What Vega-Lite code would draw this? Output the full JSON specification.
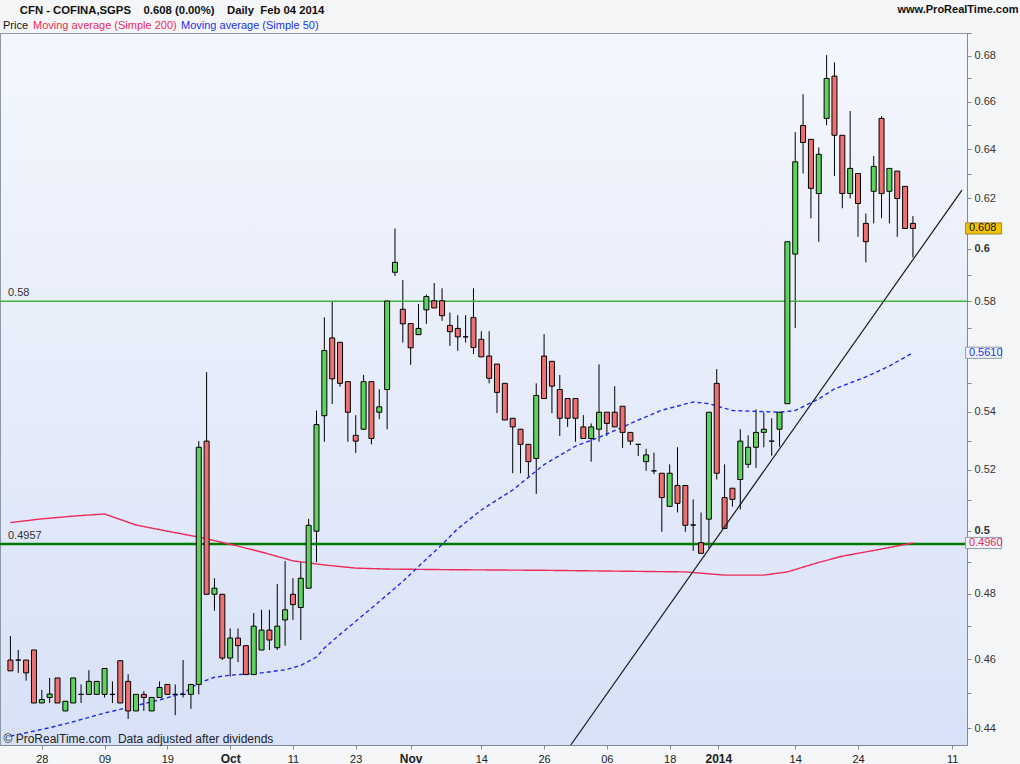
{
"$schema": "https://vega.github.io/schema/vega-lite/v6.json",
"width": 967, "height": 712,
"autosize": {"type": "none"},
"padding": {"left": 0, "top": 33, "right": 53, "bottom": 19},
"background": "#f5f6f7",
"config": {
  "font": "Liberation Sans",
  "axisX": {"labelOverlap": false, "labelSeparation": -60},
  "view": {"stroke": "#8c9aa5", "strokeWidth": 1, "fill": {"gradient": "linear", "x1": 0, "y1": 0, "x2": 0, "y2": 1, "stops": [{"offset": 0, "color": "#f4f7fd"}, {"offset": 1, "color": "#d8e1f7"}]}}
},
"datasets": {
"candles": [
{"i":0,"date":"2013-08-22","o":0.4598,"h":0.467,"l":0.4566,"c":0.4566},
{"i":1,"date":"2013-08-23","o":0.4598,"h":0.4628,"l":0.456,"c":0.4598},
{"i":2,"date":"2013-08-26","o":0.4598,"h":0.4598,"l":0.4537,"c":0.456},
{"i":3,"date":"2013-08-27","o":0.4628,"h":0.4628,"l":0.4472,"c":0.4472},
{"i":4,"date":"2013-08-28","o":0.4472,"h":0.451,"l":0.4472,"c":0.4482},
{"i":5,"date":"2013-08-29","o":0.4488,"h":0.4545,"l":0.4472,"c":0.4498},
{"i":6,"date":"2013-08-30","o":0.4545,"h":0.4545,"l":0.4472,"c":0.4472},
{"i":7,"date":"2013-09-02","o":0.4449,"h":0.4477,"l":0.4449,"c":0.4477},
{"i":8,"date":"2013-09-03","o":0.4472,"h":0.4545,"l":0.4472,"c":0.4545},
{"i":9,"date":"2013-09-04","o":0.4497,"h":0.4526,"l":0.4472,"c":0.4497},
{"i":10,"date":"2013-09-05","o":0.4497,"h":0.4568,"l":0.4497,"c":0.4535},
{"i":11,"date":"2013-09-06","o":0.4497,"h":0.4535,"l":0.4497,"c":0.4535},
{"i":12,"date":"2013-09-09","o":0.4497,"h":0.4573,"l":0.4488,"c":0.4573},
{"i":13,"date":"2013-09-10","o":0.4497,"h":0.4535,"l":0.4472,"c":0.4497},
{"i":14,"date":"2013-09-11","o":0.4596,"h":0.4596,"l":0.4472,"c":0.4472},
{"i":15,"date":"2013-09-12","o":0.4535,"h":0.4556,"l":0.4426,"c":0.4449},
{"i":16,"date":"2013-09-13","o":0.4449,"h":0.4497,"l":0.4449,"c":0.4497},
{"i":17,"date":"2013-09-16","o":0.4497,"h":0.4506,"l":0.4449,"c":0.4488},
{"i":18,"date":"2013-09-17","o":0.4449,"h":0.4488,"l":0.4449,"c":0.4488},
{"i":19,"date":"2013-09-18","o":0.4488,"h":0.4535,"l":0.4488,"c":0.4517},
{"i":20,"date":"2013-09-19","o":0.4526,"h":0.4526,"l":0.4497,"c":0.4497},
{"i":21,"date":"2013-09-20","o":0.4497,"h":0.4526,"l":0.4437,"c":0.4497},
{"i":22,"date":"2013-09-23","o":0.4497,"h":0.4598,"l":0.4488,"c":0.4497},
{"i":23,"date":"2013-09-24","o":0.4497,"h":0.4526,"l":0.4455,"c":0.4526},
{"i":24,"date":"2013-09-25","o":0.4526,"h":0.5298,"l":0.4497,"c":0.5277},
{"i":25,"date":"2013-09-26","o":0.5298,"h":0.554,"l":0.4798,"c":0.4798},
{"i":26,"date":"2013-09-27","o":0.4798,"h":0.4848,"l":0.4747,"c":0.4817},
{"i":27,"date":"2013-09-30","o":0.4798,"h":0.4798,"l":0.4598,"c":0.4604},
{"i":28,"date":"2013-10-01","o":0.4604,"h":0.4693,"l":0.4549,"c":0.4664},
{"i":29,"date":"2013-10-02","o":0.4664,"h":0.4693,"l":0.4592,"c":0.4641},
{"i":30,"date":"2013-10-03","o":0.4641,"h":0.4641,"l":0.4555,"c":0.4555},
{"i":31,"date":"2013-10-04","o":0.4555,"h":0.474,"l":0.4555,"c":0.47},
{"i":32,"date":"2013-10-07","o":0.4628,"h":0.475,"l":0.4628,"c":0.4688},
{"i":33,"date":"2013-10-08","o":0.4688,"h":0.475,"l":0.4628,"c":0.4658},
{"i":34,"date":"2013-10-09","o":0.4635,"h":0.483,"l":0.4628,"c":0.47},
{"i":35,"date":"2013-10-10","o":0.4719,"h":0.4902,"l":0.4641,"c":0.475},
{"i":36,"date":"2013-10-11","o":0.4798,"h":0.4848,"l":0.4719,"c":0.4766},
{"i":37,"date":"2013-10-14","o":0.4757,"h":0.4899,"l":0.4658,"c":0.4848},
{"i":38,"date":"2013-10-15","o":0.4817,"h":0.5038,"l":0.4817,"c":0.5017},
{"i":39,"date":"2013-10-16","o":0.4998,"h":0.5404,"l":0.4899,"c":0.5355},
{"i":40,"date":"2013-10-17","o":0.5386,"h":0.574,"l":0.5296,"c":0.5618},
{"i":41,"date":"2013-10-18","o":0.5664,"h":0.5798,"l":0.5427,"c":0.5516},
{"i":42,"date":"2013-10-21","o":0.5648,"h":0.5648,"l":0.5488,"c":0.55},
{"i":43,"date":"2013-10-22","o":0.5506,"h":0.5506,"l":0.5296,"c":0.5398},
{"i":44,"date":"2013-10-23","o":0.5318,"h":0.5388,"l":0.5258,"c":0.5298},
{"i":45,"date":"2013-10-24","o":0.5339,"h":0.553,"l":0.5339,"c":0.5506},
{"i":46,"date":"2013-10-25","o":0.5506,"h":0.5506,"l":0.5287,"c":0.5307},
{"i":47,"date":"2013-10-28","o":0.5398,"h":0.5479,"l":0.5374,"c":0.5417},
{"i":48,"date":"2013-10-29","o":0.5478,"h":0.5801,"l":0.5339,"c":0.5801},
{"i":49,"date":"2013-10-30","o":0.591,"h":0.608,"l":0.5896,"c":0.5948},
{"i":50,"date":"2013-10-31","o":0.577,"h":0.588,"l":0.5647,"c":0.5716},
{"i":51,"date":"2013-11-01","o":0.5717,"h":0.5717,"l":0.5566,"c":0.5628},
{"i":52,"date":"2013-11-04","o":0.5676,"h":0.579,"l":0.5676,"c":0.5699},
{"i":53,"date":"2013-11-05","o":0.5768,"h":0.5825,"l":0.5716,"c":0.5818},
{"i":54,"date":"2013-11-06","o":0.5802,"h":0.5869,"l":0.5775,"c":0.5775},
{"i":55,"date":"2013-11-07","o":0.5802,"h":0.5849,"l":0.5727,"c":0.5746},
{"i":56,"date":"2013-11-08","o":0.571,"h":0.5758,"l":0.5635,"c":0.5687},
{"i":57,"date":"2013-11-11","o":0.5699,"h":0.5748,"l":0.5617,"c":0.5668},
{"i":58,"date":"2013-11-12","o":0.5668,"h":0.5748,"l":0.5647,"c":0.5668},
{"i":59,"date":"2013-11-13","o":0.5739,"h":0.5849,"l":0.5605,"c":0.5629},
{"i":60,"date":"2013-11-14","o":0.5659,"h":0.5689,"l":0.5595,"c":0.5595},
{"i":61,"date":"2013-11-15","o":0.5598,"h":0.5689,"l":0.55,"c":0.5518},
{"i":62,"date":"2013-11-18","o":0.5569,"h":0.5569,"l":0.5395,"c":0.5468},
{"i":63,"date":"2013-11-19","o":0.55,"h":0.55,"l":0.5371,"c":0.5371},
{"i":64,"date":"2013-11-20","o":0.5377,"h":0.5377,"l":0.5189,"c":0.5347},
{"i":65,"date":"2013-11-21","o":0.5339,"h":0.5339,"l":0.5189,"c":0.5287},
{"i":66,"date":"2013-11-22","o":0.5287,"h":0.5287,"l":0.5178,"c":0.5228},
{"i":67,"date":"2013-11-25","o":0.5239,"h":0.55,"l":0.512,"c":0.5457},
{"i":68,"date":"2013-11-26","o":0.5598,"h":0.5678,"l":0.5446,"c":0.5446},
{"i":69,"date":"2013-11-27","o":0.5579,"h":0.5579,"l":0.5395,"c":0.549},
{"i":70,"date":"2013-11-28","o":0.5478,"h":0.553,"l":0.5316,"c":0.5377},
{"i":71,"date":"2013-11-29","o":0.5446,"h":0.5446,"l":0.5347,"c":0.5377},
{"i":72,"date":"2013-12-02","o":0.5446,"h":0.5446,"l":0.5296,"c":0.5377},
{"i":73,"date":"2013-12-03","o":0.5347,"h":0.5388,"l":0.5307,"c":0.5307},
{"i":74,"date":"2013-12-04","o":0.5307,"h":0.5359,"l":0.5228,"c":0.5347},
{"i":75,"date":"2013-12-05","o":0.5339,"h":0.5568,"l":0.5296,"c":0.5398},
{"i":76,"date":"2013-12-06","o":0.5398,"h":0.5398,"l":0.5316,"c":0.5359},
{"i":77,"date":"2013-12-09","o":0.5398,"h":0.549,"l":0.5347,"c":0.5347},
{"i":78,"date":"2013-12-10","o":0.5419,"h":0.5419,"l":0.5275,"c":0.5328},
{"i":79,"date":"2013-12-11","o":0.5328,"h":0.5328,"l":0.5285,"c":0.5298},
{"i":80,"date":"2013-12-12","o":0.5287,"h":0.5287,"l":0.5247,"c":0.5287},
{"i":81,"date":"2013-12-13","o":0.5228,"h":0.5272,"l":0.5197,"c":0.5251},
{"i":82,"date":"2013-12-16","o":0.5197,"h":0.5259,"l":0.5186,"c":0.5197},
{"i":83,"date":"2013-12-17","o":0.5189,"h":0.5189,"l":0.4996,"c":0.5108},
{"i":84,"date":"2013-12-18","o":0.5079,"h":0.5219,"l":0.5079,"c":0.5189},
{"i":85,"date":"2013-12-19","o":0.5148,"h":0.5277,"l":0.5059,"c":0.5089},
{"i":86,"date":"2013-12-20","o":0.5148,"h":0.5148,"l":0.4996,"c":0.5017},
{"i":87,"date":"2013-12-23","o":0.5018,"h":0.5102,"l":0.4935,"c":0.5018},
{"i":88,"date":"2013-12-24","o":0.4961,"h":0.5059,"l":0.4927,"c":0.4927},
{"i":89,"date":"2013-12-27","o":0.5037,"h":0.5398,"l":0.4943,"c":0.5398},
{"i":90,"date":"2013-12-30","o":0.55,"h":0.5551,"l":0.5168,"c":0.5189},
{"i":91,"date":"2013-12-31","o":0.5108,"h":0.5219,"l":0.5007,"c":0.5007},
{"i":92,"date":"2014-01-02","o":0.5139,"h":0.5139,"l":0.5078,"c":0.5102},
{"i":93,"date":"2014-01-03","o":0.5168,"h":0.5339,"l":0.5069,"c":0.5298},
{"i":94,"date":"2014-01-06","o":0.5219,"h":0.5318,"l":0.5207,"c":0.5277},
{"i":95,"date":"2014-01-07","o":0.5277,"h":0.5408,"l":0.5207,"c":0.5328},
{"i":96,"date":"2014-01-08","o":0.5328,"h":0.5398,"l":0.5277,"c":0.5339},
{"i":97,"date":"2014-01-09","o":0.5298,"h":0.5377,"l":0.5248,"c":0.5298},
{"i":98,"date":"2014-01-10","o":0.5339,"h":0.5398,"l":0.5279,"c":0.5398},
{"i":99,"date":"2014-01-13","o":0.5428,"h":0.6028,"l":0.5428,"c":0.6028},
{"i":100,"date":"2014-01-14","o":0.598,"h":0.6471,"l":0.57,"c":0.6348},
{"i":101,"date":"2014-01-15","o":0.6499,"h":0.6632,"l":0.63,"c":0.6428},
{"i":102,"date":"2014-01-16","o":0.6441,"h":0.6441,"l":0.612,"c":0.624},
{"i":103,"date":"2014-01-17","o":0.6219,"h":0.6408,"l":0.6028,"c":0.6379},
{"i":104,"date":"2014-01-20","o":0.6529,"h":0.6802,"l":0.65,"c":0.67},
{"i":105,"date":"2014-01-21","o":0.671,"h":0.677,"l":0.629,"c":0.6458},
{"i":106,"date":"2014-01-22","o":0.6458,"h":0.6458,"l":0.616,"c":0.6219},
{"i":107,"date":"2014-01-23","o":0.6219,"h":0.656,"l":0.6199,"c":0.6321},
{"i":108,"date":"2014-01-24","o":0.63,"h":0.63,"l":0.6047,"c":0.6179},
{"i":109,"date":"2014-01-27","o":0.61,"h":0.6139,"l":0.5948,"c":0.6028},
{"i":110,"date":"2014-01-28","o":0.6228,"h":0.6372,"l":0.61,"c":0.6329},
{"i":111,"date":"2014-01-29","o":0.6529,"h":0.6538,"l":0.612,"c":0.6219},
{"i":112,"date":"2014-01-30","o":0.6228,"h":0.6321,"l":0.61,"c":0.6321},
{"i":113,"date":"2014-01-31","o":0.631,"h":0.631,"l":0.6047,"c":0.6199},
{"i":114,"date":"2014-02-03","o":0.6248,"h":0.6248,"l":0.608,"c":0.608},
{"i":115,"date":"2014-02-04","o":0.61,"h":0.6129,"l":0.5967,"c":0.608}
],
"ma": [
{"i":0,"v":0.5026,"series":"Moving average (Simple 200)"},
{"i":4,"v":0.5038,"series":"Moving average (Simple 200)"},
{"i":8,"v":0.5047,"series":"Moving average (Simple 200)"},
{"i":12,"v":0.5054,"series":"Moving average (Simple 200)"},
{"i":16,"v":0.5018,"series":"Moving average (Simple 200)"},
{"i":20,"v":0.4998,"series":"Moving average (Simple 200)"},
{"i":24,"v":0.4979,"series":"Moving average (Simple 200)"},
{"i":28,"v":0.4956,"series":"Moving average (Simple 200)"},
{"i":32,"v":0.4931,"series":"Moving average (Simple 200)"},
{"i":36,"v":0.4903,"series":"Moving average (Simple 200)"},
{"i":40,"v":0.489,"series":"Moving average (Simple 200)"},
{"i":44,"v":0.488,"series":"Moving average (Simple 200)"},
{"i":48,"v":0.4877,"series":"Moving average (Simple 200)"},
{"i":56,"v":0.4875,"series":"Moving average (Simple 200)"},
{"i":68,"v":0.4873,"series":"Moving average (Simple 200)"},
{"i":86,"v":0.4868,"series":"Moving average (Simple 200)"},
{"i":91,"v":0.4858,"series":"Moving average (Simple 200)"},
{"i":96,"v":0.4858,"series":"Moving average (Simple 200)"},
{"i":99,"v":0.4868,"series":"Moving average (Simple 200)"},
{"i":103,"v":0.4898,"series":"Moving average (Simple 200)"},
{"i":106,"v":0.4918,"series":"Moving average (Simple 200)"},
{"i":110,"v":0.4936,"series":"Moving average (Simple 200)"},
{"i":115,"v":0.496,"series":"Moving average (Simple 200)"},
{"i":0,"v":0.4377,"series":"Moving average (Simple 50)"},
{"i":5,"v":0.4401,"series":"Moving average (Simple 50)"},
{"i":8,"v":0.4418,"series":"Moving average (Simple 50)"},
{"i":12,"v":0.4443,"series":"Moving average (Simple 50)"},
{"i":15,"v":0.4459,"series":"Moving average (Simple 50)"},
{"i":19,"v":0.4481,"series":"Moving average (Simple 50)"},
{"i":22,"v":0.45,"series":"Moving average (Simple 50)"},
{"i":24,"v":0.453,"series":"Moving average (Simple 50)"},
{"i":26,"v":0.4547,"series":"Moving average (Simple 50)"},
{"i":28,"v":0.4553,"series":"Moving average (Simple 50)"},
{"i":32,"v":0.456,"series":"Moving average (Simple 50)"},
{"i":35,"v":0.4569,"series":"Moving average (Simple 50)"},
{"i":37,"v":0.4582,"series":"Moving average (Simple 50)"},
{"i":39,"v":0.4607,"series":"Moving average (Simple 50)"},
{"i":40,"v":0.4634,"series":"Moving average (Simple 50)"},
{"i":42,"v":0.4675,"series":"Moving average (Simple 50)"},
{"i":46,"v":0.4755,"series":"Moving average (Simple 50)"},
{"i":50,"v":0.4838,"series":"Moving average (Simple 50)"},
{"i":52,"v":0.4885,"series":"Moving average (Simple 50)"},
{"i":55,"v":0.4955,"series":"Moving average (Simple 50)"},
{"i":57,"v":0.5006,"series":"Moving average (Simple 50)"},
{"i":60,"v":0.5067,"series":"Moving average (Simple 50)"},
{"i":64,"v":0.5133,"series":"Moving average (Simple 50)"},
{"i":68,"v":0.5218,"series":"Moving average (Simple 50)"},
{"i":72,"v":0.5281,"series":"Moving average (Simple 50)"},
{"i":75,"v":0.5311,"series":"Moving average (Simple 50)"},
{"i":78,"v":0.5346,"series":"Moving average (Simple 50)"},
{"i":80,"v":0.5371,"series":"Moving average (Simple 50)"},
{"i":83,"v":0.5405,"series":"Moving average (Simple 50)"},
{"i":87,"v":0.5434,"series":"Moving average (Simple 50)"},
{"i":89,"v":0.5428,"series":"Moving average (Simple 50)"},
{"i":92,"v":0.5404,"series":"Moving average (Simple 50)"},
{"i":94,"v":0.5402,"series":"Moving average (Simple 50)"},
{"i":98,"v":0.5398,"series":"Moving average (Simple 50)"},
{"i":100,"v":0.5404,"series":"Moving average (Simple 50)"},
{"i":103,"v":0.5445,"series":"Moving average (Simple 50)"},
{"i":105,"v":0.548,"series":"Moving average (Simple 50)"},
{"i":109,"v":0.5523,"series":"Moving average (Simple 50)"},
{"i":112,"v":0.5562,"series":"Moving average (Simple 50)"},
{"i":115,"v":0.561,"series":"Moving average (Simple 50)"}
],
"levels": [
{"v":0.58,"label":"0.58","kind":"upper"},
{"v":0.4957,"label":"0.4957","kind":"lower"}
],
"trend": [
{"i":71.4,"v":0.4352},
{"i":121.25,"v":0.6233}
],
"badges": [
{"v":0.608,"label":"0.608","kind":"last"},
{"v":0.561,"label":"0.5610","kind":"ma50"},
{"v":0.496,"label":"0.4960","kind":"ma200"}
]
},
"layer": [
{
 "data": {"name": "candles"},
 "mark": {"type": "rule", "strokeWidth": 1, "color": "#000000"},
 "encoding": {
  "x": {"field": "i", "type": "quantitative",
   "scale": {"domain": [-0.69, 121.25], "nice": false, "zero": false},
   "axis": {
    "values": [4,7,12,16,20,24,28,32,36,40,44,48,51,56,60,64,68,72,76,80,84,88,90.2,96,100,104,108,114,120],
    "labelExpr": "['28','Sep','09','13','19','25','Oct','07','11','17','23','29','Nov','08','14','20','26','Dec','06','12','18','24','2014','08','14','20','24','Feb','11'][indexof([4,7,12,16,20,24,28,32,36,40,44,48,51,56,60,64,68,72,76,80,84,88,90.2,96,100,104,108,114,120], datum.value)]",
    "labelFontWeight": {"condition": {"test": "indexof([7,28,51,72,90.2,114], datum.value) >= 0", "value": "bold"}, "value": "normal"},
    "labelFontSize": {"condition": {"test": "indexof([7,28,51,72,90.2,114], datum.value) >= 0", "value": 12}, "value": 11},
    "labelColor": "#222222", "labelPadding": 4, "labelFlush": false, "labelOverlap": false, "labelSeparation": -60, "labelBound": false,
    "grid": false, "tickSize": 4, "tickColor": "#7f8c96", "domainColor": "#7f8c96",
    "title": "\u00a9 ProRealTime.com\u00a0\u00a0Data adjusted after dividends",
    "titleX": 3, "titleY": -3, "titleAlign": "left", "titleAnchor": "start", "titleBaseline": "alphabetic",
    "titleFontWeight": "normal", "titleFontSize": 12, "titleColor": "#222222"
   }},
  "y": {"field": "l", "type": "quantitative",
   "scale": {"type": "log", "domain": [0.4352, 0.69], "nice": false, "zero": false},
   "axis": {
    "orient": "right",
    "values": [0.44,0.45,0.46,0.47,0.48,0.49,0.5,0.51,0.52,0.53,0.54,0.55,0.56,0.57,0.58,0.59,0.6,0.61,0.62,0.63,0.64,0.65,0.66,0.67,0.68,0.69],
    "labelExpr": "round(datum.value*100) % 2 == 0 && round(datum.value*100) != 56 ? format(datum.value, '.2~f') : ''",
    "labelFontWeight": {"condition": {"test": "datum.value == 0.5 || datum.value == 0.6", "value": "bold"}, "value": "normal"},
    "labelFontSize": 11,
    "labelColor": "#333333", "labelPadding": 3, "labelFlush": false,
    "grid": false, "tickSize": 4, "tickColor": "#7f8c96", "domainColor": "#7f8c96",
    "title": "www.ProRealTime.com", "titleAngle": 0, "titleX": 51, "titleY": -24,
    "titleAlign": "right", "titleBaseline": "middle", "titleFontSize": 11, "titleFontWeight": "bold", "titleColor": "#111111"
   }},
  "y2": {"field": "h"}
 }
},
{
 "data": {"name": "levels"},
 "mark": {"type": "rule"},
 "encoding": {
  "y": {"field": "v", "type": "quantitative"},
  "color": {"condition": {"test": "datum.kind == 'lower'", "value": "#007a00"}, "value": "#3cb43c"},
  "strokeWidth": {"condition": {"test": "datum.kind == 'lower'", "value": 2.5}, "value": 1.5}
 }
},
{
 "data": {"name": "levels"},
 "mark": {"type": "text", "align": "left", "baseline": "bottom", "dx": 3, "dy": -3, "fontSize": 11, "color": "#333333"},
 "encoding": {
  "x": {"datum": -0.69, "type": "quantitative"},
  "y": {"field": "v", "type": "quantitative"},
  "text": {"field": "label"}
 }
},
{
 "data": {"name": "ma"},
 "mark": {"type": "line", "strokeWidth": 1.4, "clip": true},
 "encoding": {
  "x": {"field": "i", "type": "quantitative"},
  "y": {"field": "v", "type": "quantitative"},
  "color": {"field": "series", "type": "nominal",
   "scale": {"domain": ["Price", "Moving average (Simple 200)", "Moving average (Simple 50)"], "range": ["#000000", "#ee2a5a", "#1e2af0"]},
   "legend": {"orient": "none", "legendX": 1, "legendY": -28, "direction": "horizontal",
    "title": "\u200b\u00a0\u00a0\u00a0\u00a0\u00a0\u00a0CFN - COFINA,SGPS\u00a0\u00a0\u00a0\u00a00.608 (0.00%)\u00a0\u00a0\u00a0\u00a0Daily\u00a0\u00a0Feb 04 2014",
    "titleFontSize": 11.3, "titleFontWeight": "bold", "titleColor": "#111111", "titleOrient": "top", "titleAnchor": "start", "titlePadding": 4, "titleLimit": 1000, "titleBaseline": "top",
    "symbolSize": 0, "symbolStrokeWidth": 0, "symbolOpacity": 0, "labelOffset": -9, "columnPadding": 2,
    "labelFontSize": 11, "padding": 0,
    "encode": {"labels": {"update": {"fill": {"signal": "datum.value == 'Price' ? '#111111' : datum.value == 'Moving average (Simple 50)' ? '#2233ee' : '#ee2a5a'"}}}}}
  },
  "strokeDash": {"field": "series", "type": "nominal", "legend": null,
   "scale": {"domain": ["Price", "Moving average (Simple 200)", "Moving average (Simple 50)"], "range": [[1,0],[1,0],[4,3]]}}
 }
},
{
 "data": {"name": "candles"},
 "mark": {"type": "bar", "size": 5, "stroke": "#000000", "strokeWidth": 1},
 "encoding": {
  "x": {"field": "i", "type": "quantitative"},
  "y": {"field": "o", "type": "quantitative"},
  "y2": {"field": "c"},
  "fill": {"condition": {"test": "datum.c < datum.o", "value": "#ef7070"}, "value": "#5ed35e"}
 }
},
{
 "data": {"name": "trend"},
 "mark": {"type": "line", "color": "#1a1a1a", "strokeWidth": 1.2, "clip": true},
 "encoding": {
  "x": {"field": "i", "type": "quantitative"},
  "y": {"field": "v", "type": "quantitative"}
 }
},
{
 "data": {"name": "badges"},
 "mark": {"type": "point", "shape": "M-1,-0.31H1V0.31H-1Z", "size": 1296, "filled": true, "strokeWidth": 1, "opacity": 1},
 "encoding": {
  "x": {"datum": 124.0, "type": "quantitative"},
  "y": {"field": "v", "type": "quantitative"},
  "fill": {"condition": {"test": "datum.kind == 'last'", "value": "#f4c300"}, "value": "#f1f4fb"},
  "stroke": {"condition": {"test": "datum.kind == 'last'", "value": "#9c8a3a"}, "value": "#8d9aa6"}
 }
},
{
 "data": {"name": "badges"},
 "mark": {"type": "text", "align": "left", "baseline": "middle", "dx": 3, "fontSize": 11},
 "encoding": {
  "x": {"datum": 121.75, "type": "quantitative"},
  "y": {"field": "v", "type": "quantitative"},
  "text": {"field": "label"},
  "color": {"condition": [{"test": "datum.kind == 'last'", "value": "#111111"}, {"test": "datum.kind == 'ma50'", "value": "#2233ee"}], "value": "#ee2a5a"}
 }
}
]
}
